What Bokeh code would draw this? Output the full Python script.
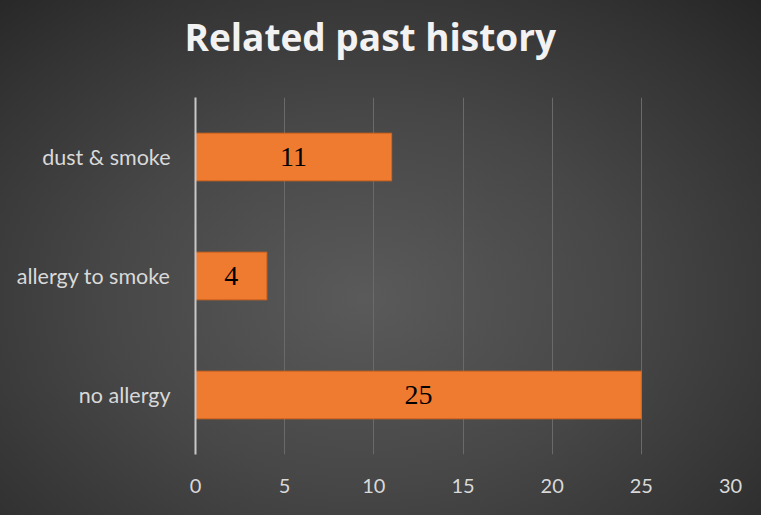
from bokeh.plotting import figure
from bokeh.models import ColumnDataSource, FactorRange, FixedTicker, Title
from bokeh.core.properties import value
from bokeh.embed import file_html
from bokeh.resources import INLINE

# Data
categories = ["no allergy", "allergy to smoke", "dust & smoke"]
counts = [25, 4, 11]
x_ticks = [0, 5, 10, 15, 20, 25, 30]
title_text = "Related past history"

src = ColumnDataSource(dict(
    cat=categories,
    val=counts,
    mid=[v / 2 for v in counts],
    lbl=[str(v) for v in counts],
))

p = figure(
    width=761, height=515,
    y_range=FactorRange(factors=categories),
    x_range=(0, 30),
    output_backend="svg", toolbar_location=None,
    min_border_left=195, min_border_right=31,
    min_border_top=97, min_border_bottom=61,
    title=title_text,
)
p.background_fill_alpha = 0
p.border_fill_alpha = 0
p.outline_line_color = None
p.styles = {"background": "radial-gradient(ellipse 75% 80% at 48% 58%, #5a5a5a 0%, #474747 45%, #333333 80%, #262626 100%)"}

p.title.align = "left"
p.title.offset = -11
p.title.standoff = 14
p.title.text_font = "Open Sans"
p.title.text_font_style = "bold"
p.title.text_font_size = "37px"
p.title.text_color = "#f2f2f2"

# spacer between title and plot area
p.add_layout(Title(text=" ", text_font_size="1px", standoff=25.5), "above")

# grid
p.ygrid.grid_line_color = None
p.xgrid.grid_line_color = "#6a6a6a"
p.xgrid.grid_line_width = 1
p.xgrid.ticker = FixedTicker(ticks=x_ticks)

# x axis
p.xaxis.ticker = FixedTicker(ticks=x_ticks)
p.xaxis.axis_line_color = None
p.xaxis.major_tick_line_color = None
p.xaxis.minor_tick_line_color = None
p.xaxis.major_label_text_color = "#d9d9d9"
p.xaxis.major_label_text_font = "Lato"
p.xaxis.major_label_text_font_size = "20px"
p.xaxis.major_label_standoff = 18

# y axis
p.yaxis.axis_line_color = "#c8c8c8"
p.yaxis.axis_line_width = 2
p.yaxis.major_tick_line_color = None
p.yaxis.minor_tick_line_color = None
p.yaxis.major_label_text_color = "#d9d9d9"
p.yaxis.major_label_text_font = "Lato"
p.yaxis.major_label_text_font_size = "21.5px"
p.yaxis.major_label_standoff = 19

p.hbar(y="cat", right="val", left=0, height=0.4, source=src,
       fill_color="#ef7b30", line_color="#d9661c", line_width=1)

p.text(x="mid", y="cat", text="lbl", source=src,
       text_font=value("Liberation Serif"), text_font_size="28px",
       text_color="#000000", text_align="center", text_baseline="middle")

open("out.html", "w").write(file_html(p, INLINE))
